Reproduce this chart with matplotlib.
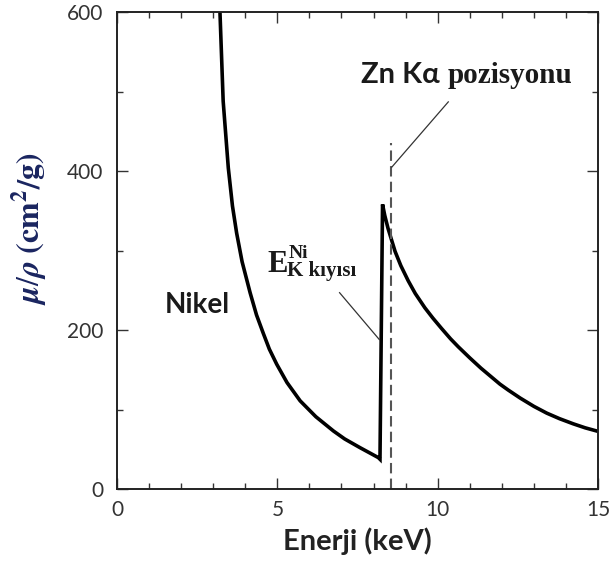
import matplotlib
matplotlib.use("Agg")
import matplotlib.pyplot as plt
from matplotlib.ticker import MultipleLocator

# Ni mass attenuation coefficient (keV, cm^2/g)
energy = [3.21, 3.31, 3.47, 3.60, 3.73, 3.90, 4.15, 4.35, 4.56, 4.75, 4.98,
          5.30, 5.71, 6.20, 6.75, 7.10, 7.58, 7.90, 8.15, 8.20,
          8.28, 8.35, 8.45, 8.67, 8.85, 9.08, 9.30, 9.60, 9.85, 10.12, 10.40,
          10.64, 11.00, 11.35, 11.94, 12.20, 12.57, 13.00, 13.40, 13.80,
          14.23, 14.60, 14.96]
mu_rho = [600, 488, 404, 356, 322, 286, 247, 219, 196, 176, 157,
          134, 111, 91, 73, 63, 52, 45, 39.5, 37.5,
          358, 344, 328, 299, 281, 262, 246, 228, 215, 202, 189,
          179, 165, 152, 132, 124.5, 114.5, 104, 95.5, 88.5,
          82, 77, 73]

zn_ka = 8.54          # dashed marker position
zn_top = 435

xticks = [0, 5, 10, 15]
yticks = [0, 200, 400, 600]

plt.rcParams["mathtext.fontset"] = "stix"
sans = ["Lato", "DejaVu Sans"]
serif = ["Liberation Serif", "DejaVu Serif"]

fig = plt.figure(figsize=(6.13, 5.74), dpi=100)
ax = fig.add_axes([0.1909, 0.148, 0.7847, 0.831])

ax.plot(energy, mu_rho, color="black", lw=2.6, solid_joinstyle="miter")
ax.plot([zn_ka, zn_ka], [0, zn_top], color="#555555", lw=1.5,
        dashes=(5, 2.5))

# leader lines
ax.plot([6.94, 8.18], [247, 188], color="#333333", lw=0.9)
ax.plot([10.33, 8.57], [487, 405], color="#333333", lw=0.9)

ax.set_xlim(0, 15)
ax.set_ylim(0, 600)
ax.set_xticks(xticks)
ax.set_yticks(yticks)
ax.xaxis.set_minor_locator(MultipleLocator(1))
ax.yaxis.set_minor_locator(MultipleLocator(100))
ax.tick_params(which="both", direction="in", top=True, right=True,
               width=1.0, colors="#333333", labelcolor="#333333")
ax.tick_params(which="major", length=8)
ax.tick_params(which="minor", length=4)
ax.tick_params(axis="x", pad=8)
ax.tick_params(axis="y", pad=10)
for lab in ax.get_xticklabels() + ax.get_yticklabels():
    lab.set_family(sans)
    lab.set_fontsize(15)
for sp in ax.spines.values():
    sp.set_linewidth(1.4)
    sp.set_color("#222222")

ax.set_xlabel("Enerji (keV)", family=sans, fontsize=21, fontweight="bold",
              color="#222222")
ax.xaxis.set_label_coords(0.5, -0.08)
ax.set_ylabel(r"$\mathbfit{\mu}/\mathbfit{\rho}\ \mathbf{(cm^2/g)}$",
              fontsize=23, color="#1a2560")
ax.yaxis.set_label_coords(-0.14, 0.545)

ax.text(2.49, 221, "Nikel", family=sans, fontsize=20, fontweight="bold",
        ha="center", va="baseline", color="#1a1a1a")
ax.text(4.68, 273, "E", family=serif, fontsize=22, fontweight="bold",
        ha="left", va="baseline", color="#1a1a1a")
ax.text(5.36, 291, "Ni", family=serif, fontsize=14, fontweight="bold",
        ha="left", va="baseline", color="#1a1a1a")
ax.text(5.30, 268, "K kıyısı", family=serif, fontsize=15, fontweight="bold",
        ha="left", va="baseline", color="#1a1a1a")
ax.text(10.05, 511, "Zn Kα", family=sans, fontsize=21, fontweight="bold",
        ha="right", va="baseline", color="#1a1a1a")
ax.text(10.32, 511, "pozisyonu", family=serif, fontsize=21, fontweight="bold",
        ha="left", va="baseline", color="#1a1a1a")

fig.savefig("out.png", dpi=100)
